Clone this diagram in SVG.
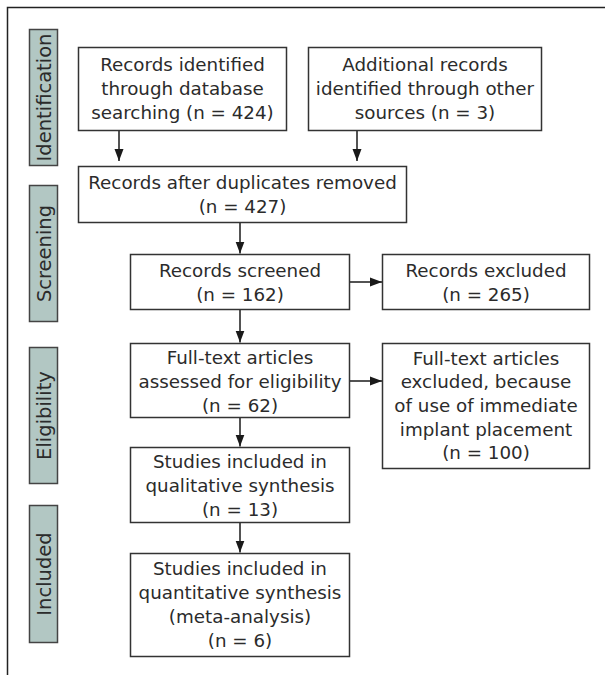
<svg xmlns="http://www.w3.org/2000/svg" width="605" height="675" viewBox="0 0 605 675">
<defs>
<marker id="ah" markerUnits="userSpaceOnUse" markerWidth="12" markerHeight="10" refX="12" refY="5" orient="auto">
<path d="M0,0.5 L12,5 L0,9.5 z" fill="#1a1a1a"/>
</marker>
<style>
.frame{fill:none;stroke:#222;stroke-width:1.5}
.box{fill:#fff;stroke:#333;stroke-width:1.5}
.lab{fill:#b2c7c3;stroke:#444;stroke-width:1.5}
.t{font-family:"DejaVu Sans",sans-serif;font-size:18.3px;fill:#2b2b2b;text-anchor:middle}
.lt{font-family:"DejaVu Sans",sans-serif;font-size:19.5px;fill:#2b2b2b;text-anchor:middle}
.c{stroke:#1a1a1a;stroke-width:1.5;fill:none;marker-end:url(#ah)}
</style>
</defs>
<rect x="0" y="0" width="605" height="675" fill="#fff"/>
<rect class="frame" x="7.5" y="7.5" width="620" height="690"/>

<g id="label-identification">
<rect class="lab" x="29.5" y="29.5" width="28" height="136"/>
<text class="lt" transform="translate(50.5,97.5) rotate(-90)">Identification</text>
</g>
<g id="label-screening">
<rect class="lab" x="29.5" y="185.5" width="28" height="136"/>
<text class="lt" transform="translate(50.5,253.5) rotate(-90)">Screening</text>
</g>
<g id="label-eligibility">
<rect class="lab" x="29.5" y="347.5" width="28" height="136"/>
<text class="lt" transform="translate(50.5,415.5) rotate(-90)">Eligibility</text>
</g>
<g id="label-included">
<rect class="lab" x="29.5" y="505.5" width="28" height="137"/>
<text class="lt" transform="translate(50.5,574) rotate(-90)">Included</text>
</g>

<g id="connectors">
<line class="c" x1="119" y1="130.5" x2="119" y2="161"/>
<line class="c" x1="357" y1="130.5" x2="357" y2="161"/>
<line class="c" x1="240" y1="223" x2="240" y2="253.5"/>
<line class="c" x1="240" y1="309.5" x2="240" y2="342.5"/>
<line class="c" x1="240" y1="417.5" x2="240" y2="446.5"/>
<line class="c" x1="240" y1="522.5" x2="240" y2="552.5"/>
<line class="c" x1="350" y1="282" x2="382" y2="282"/>
<line class="c" x1="350" y1="381" x2="382" y2="381"/>
</g>

<g id="n1">
<rect class="box" x="78.5" y="47.5" width="208" height="83"/>
<text class="t" x="182.5" y="71">Records identified</text>
<text class="t" x="182.5" y="95">through database</text>
<text class="t" x="182.5" y="119">searching (n = 424)</text>
</g>
<g id="n2">
<rect class="box" x="308.5" y="47.5" width="233" height="83"/>
<text class="t" x="425" y="71">Additional records</text>
<text class="t" x="425" y="95">identified through other</text>
<text class="t" x="425" y="119">sources (n = 3)</text>
</g>
<g id="n3">
<rect class="box" x="78.5" y="166.5" width="328" height="56"/>
<text class="t" x="242.5" y="189">Records after duplicates removed</text>
<text class="t" x="242.5" y="213">(n = 427)</text>
</g>
<g id="n4">
<rect class="box" x="130.5" y="254.5" width="219" height="55"/>
<text class="t" x="240" y="276.5">Records screened</text>
<text class="t" x="240" y="301">(n = 162)</text>
</g>
<g id="n5">
<rect class="box" x="382.5" y="254.5" width="207" height="55"/>
<text class="t" x="486" y="276.5">Records excluded</text>
<text class="t" x="486" y="301">(n = 265)</text>
</g>
<g id="n6">
<rect class="box" x="130.5" y="343.5" width="219" height="74"/>
<text class="t" x="240" y="364">Full-text articles</text>
<text class="t" x="240" y="388">assessed for eligibility</text>
<text class="t" x="240" y="412">(n = 62)</text>
</g>
<g id="n7">
<rect class="box" x="382.5" y="343.5" width="207" height="125"/>
<text class="t" x="486" y="364.5">Full-text articles</text>
<text class="t" x="486" y="388">excluded, because</text>
<text class="t" x="486" y="412">of use of immediate</text>
<text class="t" x="486" y="435.5">implant placement</text>
<text class="t" x="486" y="459">(n = 100)</text>
</g>
<g id="n8">
<rect class="box" x="130.5" y="447.5" width="219" height="75"/>
<text class="t" x="240" y="468">Studies included in</text>
<text class="t" x="240" y="492">qualitative synthesis</text>
<text class="t" x="240" y="516">(n = 13)</text>
</g>
<g id="n9">
<rect class="box" x="130.5" y="553.5" width="219" height="103"/>
<text class="t" x="240" y="575">Studies included in</text>
<text class="t" x="240" y="599">quantitative synthesis</text>
<text class="t" x="240" y="623">(meta-analysis)</text>
<text class="t" x="240" y="647">(n = 6)</text>
</g>
</svg>
